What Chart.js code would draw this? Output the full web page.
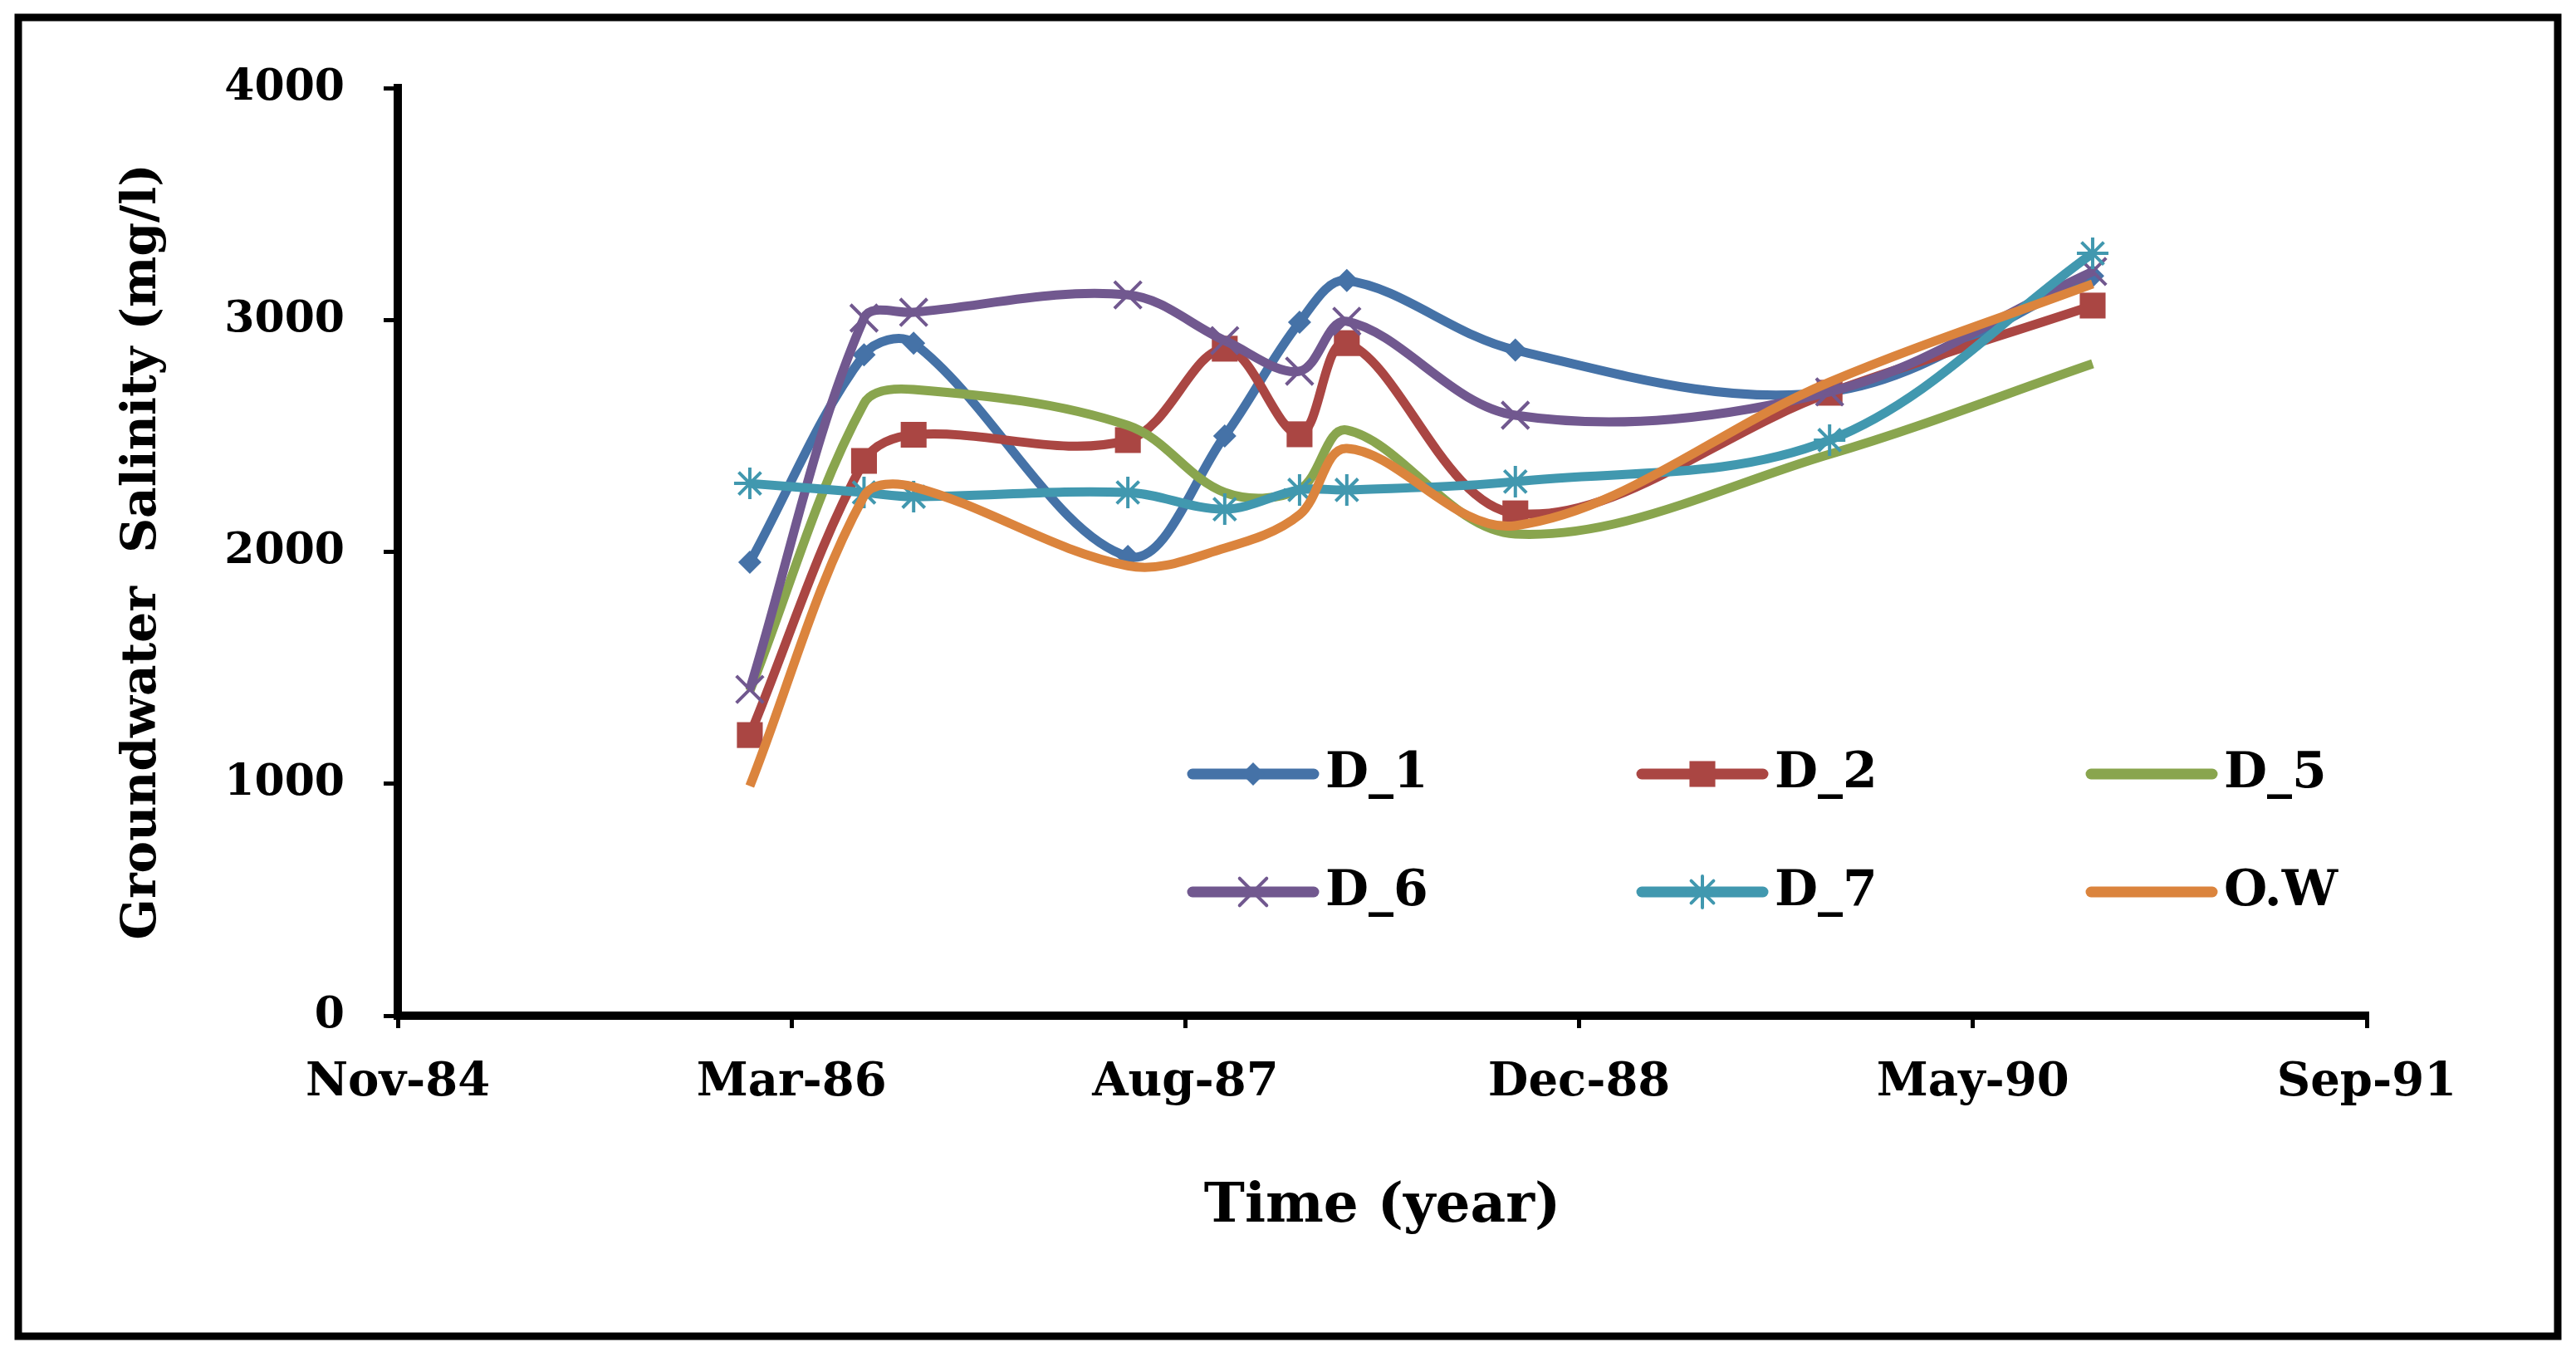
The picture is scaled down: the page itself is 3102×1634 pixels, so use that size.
<!DOCTYPE html>
<html>
<head>
<meta charset="utf-8">
<title>Groundwater salinity</title>
<script src="https://cdn.jsdelivr.net/npm/chart.js@4.4.1/dist/chart.umd.min.js"></script>
<style>
  html, body { margin: 0; padding: 0; background: #fff; }
  #wrap { width: 3102px; height: 1634px; }
</style>
</head>
<body>
<div id="wrap"><canvas id="salinityChart" width="3102" height="1634"></canvas></div>
<script>
// sampling dates
const sampleDates = ["1986-02-04", "1986-06-29", "1986-08-31", "1987-05-30", "1987-09-30",
                     "1988-01-03", "1988-03-03", "1988-10-03", "1989-11-06", "1990-10-06"];

const seriesNames = ["D_1", "D_2", "D_5", "D_6", "D_7", "O.W"];

// salinity, mg/l
const d1 = [1955, 2850, 2900, 1980, 2500, 2990, 3170, 2870, 2690, 3190];
const d2 = [1210, 2392, 2505, 2482, 2876, 2507, 2900, 2166, 2686, 3062];
const d5 = [1400, 2640, 2700, 2545, 2256, 2270, 2525, 2077, 2421, 2811];
const d6 = [1407, 3008, 3033, 3108, 2911, 2779, 2994, 2589, 2690, 3209];
const d7 = [2295, 2256, 2238, 2256, 2184, 2267, 2267, 2303, 2482, 3287];
const ow = [990, 2240, 2280, 1940, 2016, 2160, 2446, 2113, 2732, 3155];

// x axis: Excel style date axis, 500 day steps
const axisStartDate = "1984-11-14";
const tickStepDays = 500;
const tickLabels = ["Nov-84", "Mar-86", "Aug-87", "Dec-88", "May-90", "Sep-91"];
const yMax = 4000;
const yStep = 1000;

const toSerial = s => Math.round((Date.parse(s) - Date.UTC(1899, 11, 30)) / 864e5);
const xStart = toSerial(axisStartDate);
const xEnd = xStart + tickStepDays * (tickLabels.length - 1);

const FONT = "'DejaVu Serif', 'Liberation Serif', serif";
const colors = ["#4572A7", "#AA4643", "#89A54E", "#71588F", "#4198AF", "#DB843D"];
const markers = [
  { style: "rectRot", r: 14, w: 0 },
  { style: "rect", r: 22, w: 0 },
  { style: false, r: 0, w: 0 },
  { style: "crossRot", r: 23, w: 4 },
  { style: "star", r: 19, w: 4 },
  { style: false, r: 0, w: 0 }
];
const values = [d1, d2, d5, d6, d7, ow];

const datasets = seriesNames.map((name, i) => ({
  label: name,
  data: values[i].map((v, k) => ({ x: toSerial(sampleDates[k]), y: v })),
  borderColor: colors[i],
  backgroundColor: colors[i],
  borderWidth: 11,
  tension: 0.35,
  pointStyle: markers[i].style,
  pointRadius: markers[i].r,
  pointBorderWidth: markers[i].w,
  pointBackgroundColor: colors[i],
  pointBorderColor: colors[i],
  order: seriesNames.length - i
}));

const frame = {
  id: "frame",
  beforeDraw(chart) {
    const ctx = chart.ctx;
    ctx.save();
    ctx.fillStyle = "#fff";
    ctx.fillRect(0, 0, chart.width, chart.height);
    ctx.strokeStyle = "#000";
    ctx.lineWidth = 9;
    ctx.strokeRect(22, 21, 3058, 1588);
    ctx.restore();
  }
};

const insideLegend = {
  id: "insideLegend",
  afterDraw(chart, args, opts) {
    const ctx = chart.ctx;
    chart.data.datasets.forEach((ds, i) => {
      const x = opts.x + (i % opts.columns) * opts.colGap;
      const y = opts.y + Math.floor(i / opts.columns) * opts.rowGap;
      ctx.save();
      ctx.strokeStyle = ds.borderColor;
      ctx.lineWidth = ds.borderWidth + 2;
      ctx.lineCap = "round";
      ctx.beginPath();
      ctx.moveTo(x, y);
      ctx.lineTo(x + opts.lineLength, y);
      ctx.stroke();
      if (ds.pointRadius > 0) {
        ctx.fillStyle = ds.pointBackgroundColor;
        ctx.strokeStyle = ds.pointBorderColor;
        ctx.lineWidth = ds.pointBorderWidth;
        Chart.helpers.drawPoint(ctx, {
          pointStyle: ds.pointStyle, radius: ds.pointRadius,
          rotation: 0, borderWidth: ds.pointBorderWidth
        }, x + opts.lineLength / 2, y);
      }
      ctx.fillStyle = "#000";
      ctx.font = "bold " + opts.fontSize + "px " + FONT;
      ctx.textBaseline = "middle";
      ctx.textAlign = "left";
      ctx.fillText(ds.label, x + opts.lineLength + opts.textGap, y);
      ctx.restore();
    });
  }
};

Chart.defaults.color = "#000";
Chart.defaults.font.family = FONT;
Chart.defaults.font.weight = "bold";

new Chart(document.getElementById("salinityChart"), {
  type: "line",
  data: { datasets },
  plugins: [frame, insideLegend],
  options: {
    responsive: false,
    devicePixelRatio: 1,
    animation: false,
    layout: { padding: { top: 106, right: 252, left: 0, bottom: 0 } },
    plugins: {
      legend: { display: false },
      tooltip: { enabled: false },
      insideLegend: { x: 1436, y: 932, columns: 3, colGap: 541, rowGap: 142,
                      lineLength: 146, textGap: 14, fontSize: 60 }
    },
    scales: {
      x: {
        type: "linear",
        min: xStart,
        max: xEnd,
        afterFit: s => { s.height = 411; },
        grid: { drawOnChartArea: false, drawTicks: true, tickLength: 15,
                lineWidth: 5, color: "#000" },
        border: { display: true, width: 10, color: "#000" },
        ticks: {
          stepSize: tickStepDays,
          autoSkip: false,
          maxRotation: 0,
          padding: 33,
          font: { size: 56, weight: "bold" },
          callback: v => tickLabels[Math.round((v - xStart) / tickStepDays)]
        },
        title: { display: true, text: "Time (year)", font: { size: 66, weight: "bold" },
                 padding: { top: 0, bottom: 141 } }
      },
      y: {
        min: 0,
        max: yMax,
        afterFit: s => { s.width = 479; },
        grid: { drawOnChartArea: false, drawTicks: true, tickLength: 17,
                lineWidth: 5, color: "#000" },
        border: { display: true, width: 10, color: "#000" },
        ticks: { stepSize: yStep, padding: 47, font: { size: 52, weight: "bold" },
                 callback: v => String(v) },
        title: { display: true, text: "Groundwater  Salinity (mg/l)",
                 font: { size: 58, weight: "bold" }, padding: { top: 137, bottom: 0 } }
      }
    }
  }
});
</script>
</body>
</html>
